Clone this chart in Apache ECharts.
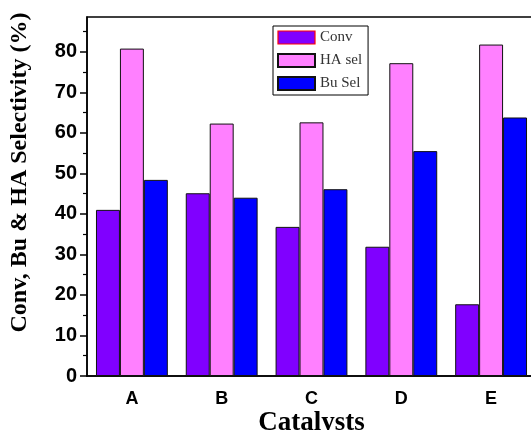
<!DOCTYPE html>
<html>
<head>
<meta charset="utf-8">
<script src="https://cdn.jsdelivr.net/npm/echarts@6/dist/echarts.min.js"></script>
<style>html,body{margin:0;padding:0;background:#fff;}#c{width:531px;height:430px;}</style>
</head>
<body>
<div id="c"></div>
<script>
var categories = ['A', 'B', 'C', 'D', 'E'];
var conv = [41.0, 45.1, 36.8, 31.9, 17.7];
var haSel = [80.8, 62.3, 62.6, 77.2, 81.8];
var buSel = [48.4, 44.0, 46.1, 55.5, 63.8];
var yMajorTicks = [0, 10, 20, 30, 40, 50, 60, 70, 80];
var yMinorTicks = [5, 15, 25, 35, 45, 55, 65, 75, 85];
var seriesNames = ['Conv', 'HA sel', 'Bu Sel'];
var seriesColors = ['#8000ff', '#ff80ff', '#0000ff'];

var chart = echarts.init(document.getElementById('c'), null, {renderer: 'canvas'});
var yMax = 88.6;
var serifBold = {fontFamily: 'Liberation Serif', fontWeight: 'bold', color: '#000'};
var dataSets = [conv, haSel, buSel];
var option = {
  animation: false,
  backgroundColor: '#fff',
  grid: {left: 87, right: -5, top: 17, bottom: 54, outerBoundsMode: 'none', containLabel: false,
         show: true, borderColor: '#000', borderWidth: 1.5, backgroundColor: 'transparent'},
  legend: {
    orient: 'vertical', left: 273, top: 26,
    icon: 'rect',
    itemWidth: 37, itemHeight: 13, itemGap: 8,
    padding: [4, 6, 4, 4],
    borderColor: '#000', borderWidth: 1, backgroundColor: '#fff',
    textStyle: {fontFamily: 'Liberation Serif', fontSize: 15, color: '#333'},
    data: [
      {name: 'Conv', itemStyle: {borderColor: '#ff0000', borderWidth: 1.2}},
      {name: 'HA sel'},
      {name: 'Bu Sel'}
    ]
  },
  xAxis: [
    {
      type: 'category', data: categories, position: 'bottom',
      axisLine: {lineStyle: {color: '#000', width: 1.5}},
      axisTick: {alignWithLabel: true, length: 8, lineStyle: {color: '#000', width: 1.5}},
      axisLabel: {fontFamily: 'Liberation Sans', fontWeight: 'bold', fontSize: 18, color: '#000', margin: 14},
      name: 'Catalysts', nameLocation: 'middle', nameGap: 34, nameMoveOverlap: false,
      nameTextStyle: Object.assign({fontSize: 27}, serifBold)
    },
    {
      type: 'category', data: categories, position: 'bottom',
      axisLine: {show: false},
      axisTick: {alignWithLabel: false, length: 5, lineStyle: {color: '#000', width: 1.5}},
      axisLabel: {show: false}
    }
  ],
  yAxis: [
    {
      type: 'value', min: 0, max: yMax, interval: 10,
      axisLine: {show: true, lineStyle: {color: '#000', width: 1.5}},
      axisTick: {show: true, length: 7, customValues: yMajorTicks, lineStyle: {color: '#000', width: 1.5}},
      axisLabel: {customValues: yMajorTicks, fontFamily: 'Liberation Sans', fontWeight: 'bold', fontSize: 20, color: '#000', margin: 10},
      splitLine: {show: false},
      name: 'Conv, Bu & HA Selectivity (%)', nameLocation: 'middle', nameGap: 55, nameMoveOverlap: false,
      nameTextStyle: Object.assign({fontSize: 24, padding: [0, 0, 0, 48]}, serifBold)
    },
    {
      type: 'value', min: 0, max: yMax, position: 'left',
      axisLine: {show: false},
      axisTick: {show: true, length: 4, customValues: yMinorTicks, lineStyle: {color: '#000', width: 1.2}},
      axisLabel: {show: false},
      splitLine: {show: false}
    }
  ],
  series: seriesNames.map(function (n, i) {
    return {
      name: n, type: 'bar', xAxisIndex: 0, yAxisIndex: 0,
      data: dataSets[i],
      barGap: '0%', barCategoryGap: '20%',
      itemStyle: {color: seriesColors[i], borderColor: '#111', borderWidth: 1}
    };
  })
};
chart.setOption(option);
</script>
</body>
</html>
